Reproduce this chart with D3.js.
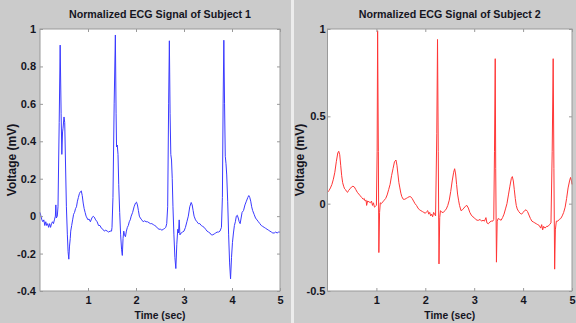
<!DOCTYPE html>
<html>
<head>
<meta charset="utf-8">
<script src="https://cdn.jsdelivr.net/npm/d3@7"></script>
<style>
  html, body { margin: 0; padding: 0; background: #cbcbcb; }
  svg { display: block; }
  text { font-family: "Liberation Sans", Arial, sans-serif; font-weight: bold; fill: #15151f; }
</style>
</head>
<body>
<div id="chart"></div>
<script>
// subject 1 (blue)
var time1 = [0.00,0.02,0.04,0.06,0.08,0.10,0.12,0.14,0.16,0.18,0.20,0.22,0.24,0.26,0.28,0.30,0.32,0.33,0.34,0.36,0.375,0.40,0.42,0.44,0.455,0.47,0.48,0.50,0.515,0.53,0.55,0.57,0.585,0.60,0.615,0.63,0.64,0.66,0.68,0.70,0.72,0.74,0.76,0.78,0.80,0.82,0.84,0.86,0.88,0.90,0.92,0.94,0.96,0.98,1.00,1.02,1.05,1.08,1.11,1.13,1.16,1.19,1.22,1.25,1.28,1.31,1.34,1.37,1.40,1.43,1.46,1.49,1.50,1.52,1.545,1.57,1.585,1.595,1.61,1.625,1.64,1.66,1.68,1.70,1.715,1.73,1.745,1.76,1.78,1.80,1.82,1.84,1.86,1.88,1.90,1.93,1.96,1.99,2.01,2.03,2.05,2.07,2.09,2.12,2.15,2.18,2.21,2.24,2.27,2.30,2.33,2.36,2.39,2.42,2.45,2.48,2.51,2.54,2.57,2.60,2.62,2.64,2.66,2.68,2.695,2.71,2.725,2.74,2.755,2.77,2.79,2.81,2.83,2.85,2.87,2.885,2.90,2.915,2.94,2.97,3.00,3.03,3.06,3.09,3.12,3.15,3.17,3.19,3.21,3.24,3.27,3.30,3.33,3.36,3.39,3.42,3.45,3.48,3.51,3.54,3.57,3.60,3.63,3.66,3.69,3.72,3.75,3.78,3.80,3.815,3.83,3.845,3.86,3.875,3.89,3.91,3.93,3.95,3.97,3.99,4.01,4.03,4.05,4.07,4.09,4.11,4.13,4.15,4.17,4.19,4.21,4.24,4.27,4.30,4.33,4.35,4.37,4.39,4.41,4.43,4.46,4.49,4.52,4.55,4.58,4.61,4.64,4.67,4.70,4.73,4.76,4.79,4.82,4.85,4.88,4.91,4.94,4.97,5.00];
var volt1 = [0.02,0.00,-0.02,-0.03,-0.02,-0.05,-0.03,-0.05,-0.04,-0.06,-0.04,-0.06,-0.04,-0.03,-0.04,-0.02,0.00,0.06,-0.01,0.00,0.05,0.50,0.914,0.55,0.33,0.45,0.47,0.53,0.50,0.30,0.05,-0.10,-0.19,-0.23,-0.16,-0.12,-0.08,-0.05,-0.02,0.01,0.02,0.04,0.05,0.08,0.10,0.12,0.13,0.135,0.11,0.07,0.04,0.02,0.00,-0.01,-0.02,-0.015,-0.03,-0.01,0.00,-0.005,-0.02,-0.03,-0.05,-0.05,-0.065,-0.07,-0.08,-0.075,-0.08,-0.085,-0.08,-0.08,-0.06,0.10,0.60,0.968,0.55,0.37,0.38,0.33,0.17,0.02,-0.10,-0.18,-0.21,-0.12,-0.08,-0.10,-0.11,-0.08,-0.06,-0.05,-0.03,-0.02,0.00,0.02,0.05,0.07,0.075,0.06,0.03,0.00,-0.01,-0.02,-0.03,-0.025,-0.03,-0.03,-0.035,-0.04,-0.04,-0.045,-0.05,-0.055,-0.065,-0.07,-0.07,-0.075,-0.07,-0.065,-0.06,-0.04,0.05,0.60,0.937,0.55,0.33,0.30,0.20,0.05,-0.10,-0.22,-0.28,-0.15,-0.07,-0.09,-0.02,-0.10,-0.09,-0.085,-0.08,-0.06,-0.03,0.00,0.05,0.073,0.06,0.03,0.00,-0.02,-0.03,-0.04,-0.04,-0.05,-0.055,-0.06,-0.07,-0.08,-0.085,-0.09,-0.10,-0.10,-0.095,-0.09,-0.085,-0.085,-0.08,-0.06,0.10,0.60,0.94,0.60,0.32,0.28,0.22,0.08,-0.10,-0.25,-0.335,-0.22,-0.14,-0.09,-0.05,-0.03,0.00,0.005,-0.01,-0.03,-0.04,-0.01,0.02,0.03,0.06,0.08,0.10,0.11,0.10,0.08,0.05,0.03,0.01,-0.01,-0.02,-0.03,-0.04,-0.05,-0.055,-0.06,-0.065,-0.07,-0.075,-0.08,-0.085,-0.09,-0.09,-0.085,-0.09,-0.085,-0.085];

// subject 2 (red)
var time2 = [0.00,0.03,0.06,0.09,0.12,0.15,0.18,0.21,0.23,0.25,0.27,0.29,0.31,0.33,0.35,0.37,0.39,0.41,0.43,0.46,0.49,0.52,0.55,0.58,0.61,0.64,0.67,0.70,0.73,0.75,0.77,0.79,0.80,0.82,0.85,0.88,0.90,0.92,0.94,0.96,0.98,1.00,1.015,1.025,1.04,1.05,1.065,1.08,1.10,1.13,1.16,1.19,1.22,1.25,1.28,1.31,1.34,1.37,1.40,1.42,1.44,1.46,1.48,1.50,1.52,1.55,1.58,1.61,1.64,1.67,1.70,1.73,1.76,1.79,1.82,1.85,1.88,1.91,1.94,1.97,2.00,2.03,2.05,2.07,2.09,2.11,2.13,2.15,2.17,2.19,2.21,2.235,2.25,2.265,2.28,2.295,2.31,2.34,2.37,2.40,2.43,2.46,2.49,2.52,2.55,2.58,2.60,2.62,2.64,2.66,2.68,2.70,2.73,2.76,2.79,2.82,2.85,2.88,2.91,2.94,2.97,3.00,3.03,3.06,3.09,3.12,3.15,3.18,3.21,3.24,3.26,3.29,3.32,3.35,3.38,3.40,3.415,3.43,3.44,3.455,3.47,3.49,3.52,3.55,3.58,3.61,3.64,3.67,3.70,3.73,3.76,3.78,3.80,3.82,3.84,3.86,3.88,3.91,3.94,3.97,4.00,4.03,4.06,4.09,4.12,4.15,4.18,4.21,4.24,4.27,4.30,4.33,4.36,4.38,4.40,4.42,4.45,4.48,4.51,4.54,4.57,4.595,4.615,4.63,4.645,4.66,4.68,4.71,4.74,4.77,4.80,4.83,4.86,4.89,4.92,4.95,4.97,4.99,5.00];
var volt2 = [0.065,0.075,0.09,0.11,0.14,0.18,0.24,0.29,0.30,0.28,0.22,0.16,0.12,0.10,0.085,0.08,0.07,0.065,0.075,0.085,0.095,0.10,0.095,0.08,0.065,0.055,0.045,0.035,0.025,0.03,0.015,0.02,-0.01,0.015,0.01,0.005,0.015,-0.01,0.005,-0.02,-0.015,-0.01,0.30,0.99,0.30,-0.28,-0.05,0.005,0.00,0.01,0.02,0.03,0.05,0.08,0.11,0.16,0.20,0.24,0.25,0.22,0.17,0.12,0.09,0.06,0.04,0.025,0.025,0.03,0.035,0.04,0.04,0.03,0.015,0.00,-0.01,-0.025,-0.035,-0.04,-0.045,-0.05,-0.055,-0.045,-0.04,-0.06,-0.05,-0.07,-0.06,-0.075,-0.05,-0.06,-0.07,0.40,0.94,0.30,-0.345,-0.08,-0.04,-0.05,-0.05,-0.04,-0.03,-0.01,0.02,0.07,0.13,0.18,0.20,0.17,0.11,0.055,0.02,-0.01,-0.04,-0.035,-0.025,-0.015,-0.01,-0.025,-0.05,-0.065,-0.075,-0.08,-0.09,-0.095,-0.095,-0.09,-0.10,-0.095,-0.10,-0.08,-0.11,-0.115,-0.105,-0.10,-0.10,-0.09,0.30,0.83,0.20,-0.335,-0.10,-0.085,-0.09,-0.095,-0.08,-0.06,-0.03,0.00,0.05,0.10,0.145,0.155,0.13,0.08,0.03,-0.01,-0.03,-0.045,-0.055,-0.06,-0.05,-0.04,-0.035,-0.045,-0.065,-0.085,-0.10,-0.105,-0.11,-0.115,-0.12,-0.125,-0.14,-0.12,-0.15,-0.13,-0.14,-0.13,-0.13,-0.12,-0.11,0.30,0.83,0.20,-0.375,-0.15,-0.10,-0.10,-0.09,-0.085,-0.07,-0.05,-0.02,0.03,0.09,0.13,0.15,0.13,0.11];

var titles = ["Normalized ECG Signal of Subject 1", "Normalized ECG Signal of Subject 2"];
var xTicks = [1, 2, 3, 4, 5];
var xTickLabels = ["1", "2", "3", "4", "5"];
var yTicks1 = [-0.4, -0.2, 0, 0.2, 0.4, 0.6, 0.8, 1];
var yTickLabels1 = ["-0.4", "-0.2", "0", "0.2", "0.4", "0.6", "0.8", "1"];
var yTicks2 = [-0.5, 0, 0.5, 1];
var yTickLabels2 = ["-0.5", "0", "0.5", "1"];

var width = 576, height = 323;

var svg = d3.select("#chart").append("svg")
    .attr("width", width)
    .attr("height", height);

svg.append("rect")
    .attr("width", width).attr("height", height)
    .attr("fill", "#cbcbcb");

// light divider between the two figures
svg.append("rect")
    .attr("x", 291).attr("y", 0)
    .attr("width", 3).attr("height", height)
    .attr("fill", "#ececec");

var panels = [
  { left: 40, right: 280, top: 29, bottom: 291, yMin: -0.4, time: time1, volt: volt1,
    yTicks: yTicks1, yLabels: yTickLabels1, color: "#3a3aff", title: titles[0], labelGap: 4 },
  { left: 327.5, right: 572, top: 29, bottom: 291, yMin: -0.5, time: time2, volt: volt2,
    yTicks: yTicks2, yLabels: yTickLabels2, color: "#ff3535", title: titles[1], labelGap: 2 }
];

panels.forEach(function(p) {
  var x = d3.scaleLinear().domain([0, 5]).range([p.left, p.right]);
  var y = d3.scaleLinear().domain([p.yMin, 1]).range([p.bottom, p.top]);
  var g = svg.append("g");

  g.append("rect")
      .attr("x", p.left).attr("y", p.top)
      .attr("width", p.right - p.left).attr("height", p.bottom - p.top)
      .attr("fill", "#fff");

  var line = d3.line()
      .x(function(d) { return x(d[0]); })
      .y(function(d) { return y(d[1]); });

  var pts = p.time.map(function(t, i) { return [t, p.volt[i]]; });

  g.append("path")
      .datum(pts)
      .attr("d", line)
      .attr("fill", "none")
      .attr("stroke", p.color)
      .attr("stroke-width", 1)
      .attr("stroke-linejoin", "round");

  // box
  g.append("rect")
      .attr("x", p.left).attr("y", p.top)
      .attr("width", p.right - p.left).attr("height", p.bottom - p.top)
      .attr("fill", "none")
      .attr("stroke", "#9a9a9a")
      .attr("stroke-width", 1);

  var yAxis = d3.axisLeft(y)
      .tickValues(p.yTicks)
      .tickSize(-3)
      .tickPadding(p.labelGap)
      .tickFormat(function(d, i) { return p.yLabels[i]; });
  var ya = g.append("g").attr("transform", "translate(" + p.left + ",0)").call(yAxis);

  var yAxisR = d3.axisRight(y).tickValues(p.yTicks).tickSize(-3).tickFormat("");
  var yr = g.append("g").attr("transform", "translate(" + p.right + ",0)").call(yAxisR);

  var xAxis = d3.axisBottom(x)
      .tickValues(xTicks)
      .tickSize(-3)
      .tickPadding(5)
      .tickFormat(function(d, i) { return xTickLabels[i]; });
  var xa = g.append("g").attr("transform", "translate(0," + p.bottom + ")").call(xAxis);

  var xAxisT = d3.axisTop(x).tickValues(xTicks).tickSize(-3).tickFormat("");
  var xt = g.append("g").attr("transform", "translate(0," + p.top + ")").call(xAxisT);

  [ya, yr, xa, xt].forEach(function(a) {
    a.select(".domain").remove();
    a.selectAll(".tick line").attr("stroke", "#9a9a9a");
    a.selectAll("text")
      .style("font-family", "'Liberation Sans', Arial, sans-serif")
      .style("font-weight", "bold")
      .style("font-size", "11px")
      .attr("fill", "#15151f");
  });

  var cx = (p.left + p.right) / 2;

  g.append("text")
      .attr("x", cx).attr("y", 18)
      .attr("text-anchor", "middle")
      .attr("font-size", "11.5px")
      .attr("textLength", 182)
      .attr("lengthAdjust", "spacingAndGlyphs")
      .text(p.title);

  g.append("text")
      .attr("x", cx).attr("y", 319)
      .attr("text-anchor", "middle")
      .attr("font-size", "11.5px")
      .attr("textLength", 51)
      .attr("lengthAdjust", "spacingAndGlyphs")
      .text("Time (sec)");

  g.append("text")
      .attr("transform", "translate(" + (p.left - 24) + "," + ((p.top + p.bottom) / 2) + ") rotate(-90)")
      .attr("text-anchor", "middle")
      .attr("font-size", "12px")
      .text("Voltage (mV)");
});
</script>
</body>
</html>
